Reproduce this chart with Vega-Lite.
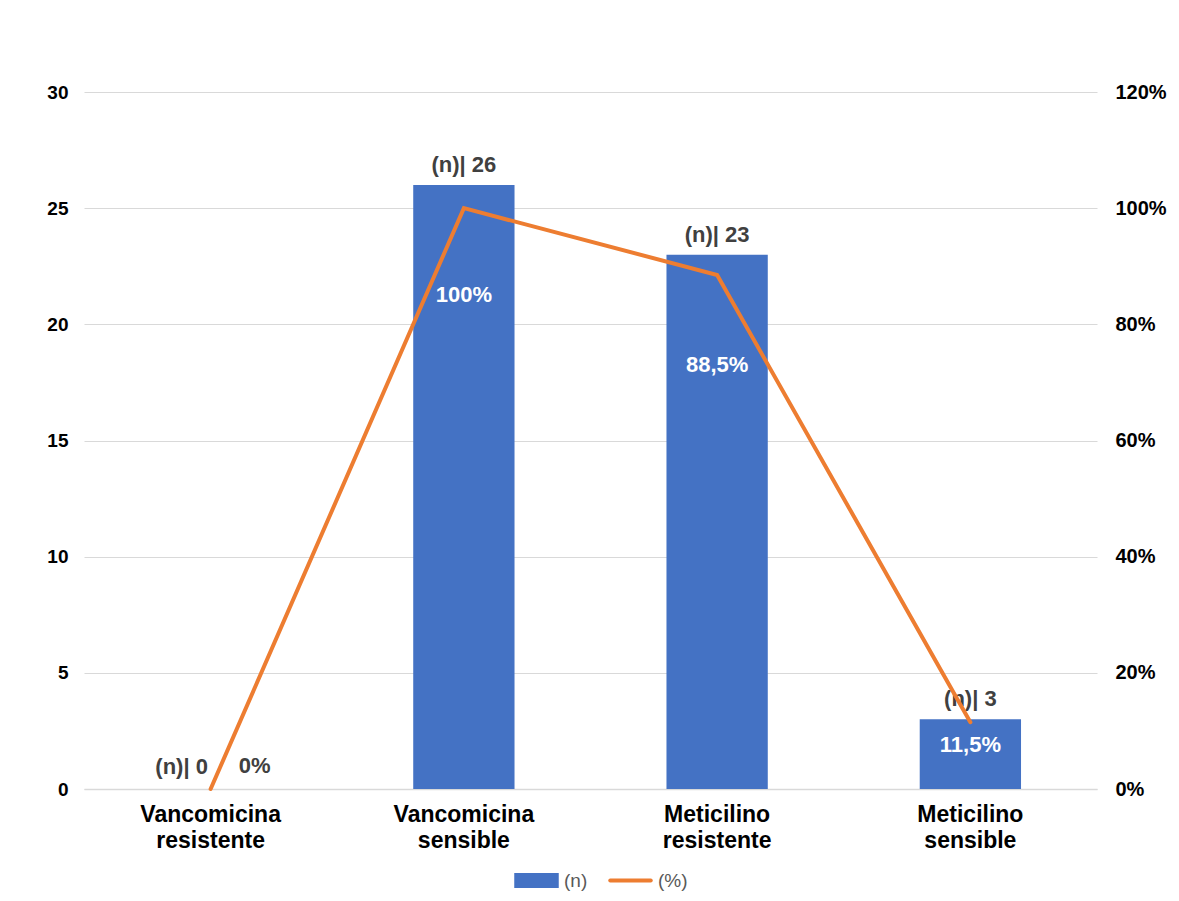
{
  "$schema": "https://vega.github.io/schema/vega-lite/v6.json",
  "width": 1013,
  "height": 697,
  "autosize": {"type": "none"},
  "padding": {"left": 84, "top": 92, "right": 82, "bottom": 112},
  "background": "white",
  "config": {
    "font": "Liberation Sans",
    "view": {"stroke": null},
    "axis": {"labelFont": "Liberation Sans", "labelFontWeight": "bold", "labelColor": "#000000", "ticks": false, "title": null}
  },
  "data": {
    "values": [
      {"cat": "Vancomicina resistente", "n": 0, "pct": 0},
      {"cat": "Vancomicina sensible", "n": 26, "pct": 1},
      {"cat": "Meticilino resistente", "n": 23, "pct": 0.885},
      {"cat": "Meticilino sensible", "n": 3, "pct": 0.115}
    ]
  },
  "transform": [
    {"calculate": "'(n)| ' + datum.n", "as": "nlabel"},
    {"calculate": "replace(format(datum.pct, '.1~%'), '.', ',')", "as": "plabel"}
  ],
  "encoding": {
    "x": {
      "field": "cat",
      "type": "nominal",
      "sort": null,
      "scale": {"paddingInner": 0.6, "paddingOuter": 0.3},
      "axis": {
        "labelAngle": 0,
        "labelFontSize": 23,
        "labelLineHeight": 26,
        "labelPadding": 14,
        "labelExpr": "split(datum.label, ' ')",
        "domainColor": "#d9d9d9",
        "domainWidth": 1.5
      }
    }
  },
  "layer": [
    {
      "encoding": {
        "y": {
          "field": "n",
          "type": "quantitative",
          "scale": {"domain": [0, 30], "nice": false},
          "axis": {
            "values": [0, 5, 10, 15, 20, 25, 30],
            "labelFontSize": 19,
            "labelPadding": 16,
            "domain": false,
            "gridColor": "#d9d9d9",
            "gridWidth": 1.2
          }
        }
      },
      "layer": [
        {
          "mark": {"type": "bar", "color": "#4472c4"},
          "encoding": {
            "color": {
              "datum": "(n)",
              "scale": {"domain": ["(n)", "(%)"], "range": ["#4472c4", "#ed7d31"]},
              "legend": {
                "title": null,
                "orient": "none",
                "direction": "horizontal",
                "legendX": 430,
                "legendY": 766,
                "symbolSize": 1640,
                "symbolStrokeWidth": 4,
                "labelFontSize": 19,
                "labelColor": "#595959",
                "labelFont": "Liberation Sans",
                "labelOffset": 5,
                "columnPadding": 14,
                "encode": {
                  "symbols": {
                    "update": {
                      "shape": {"signal": "datum.label === '(n)' ? 'M-1,-0.27H1V0.27H-1Z' : 'M-1,-0.27M-1,0H1M1,0.27'"},
                      "fill": {"signal": "datum.label === '(n)' ? '#4472c4' : 'transparent'"},
                      "stroke": {"signal": "datum.label === '(n)' ? 'transparent' : '#ed7d31'"},
                      "strokeWidth": {"value": 4},
                      "strokeCap": {"value": "round"},
                      "opacity": {"value": 1}
                    }
                  }
                }
              }
            }
          }
        },
        {
          "transform": [{"filter": "datum.n > 0"}],
          "mark": {"type": "text", "dy": -20, "fontSize": 22, "fontWeight": "bold", "color": "#404040", "baseline": "middle"},
          "encoding": {"text": {"field": "nlabel"}}
        },
        {
          "transform": [{"filter": "datum.n == 0"}],
          "mark": {"type": "text", "dx": -29, "dy": -22, "fontSize": 22, "fontWeight": "bold", "color": "#404040", "baseline": "middle"},
          "encoding": {"text": {"field": "nlabel"}}
        },
        {
          "transform": [{"filter": "datum.n > 5"}],
          "mark": {"type": "text", "dy": 110, "fontSize": 22, "fontWeight": "bold", "color": "#ffffff", "baseline": "middle"},
          "encoding": {"text": {"field": "plabel"}}
        },
        {
          "transform": [{"filter": "datum.n > 0 && datum.n <= 5"}],
          "mark": {"type": "text", "dy": 26, "fontSize": 22, "fontWeight": "bold", "color": "#ffffff", "baseline": "middle"},
          "encoding": {"text": {"field": "plabel"}}
        },
        {
          "transform": [{"filter": "datum.pct == 0"}],
          "mark": {"type": "text", "dx": 44, "dy": -23, "fontSize": 22, "fontWeight": "bold", "color": "#404040", "baseline": "middle"},
          "encoding": {"text": {"field": "plabel"}}
        }
      ]
    },
    {
      "mark": {"type": "line", "strokeWidth": 4, "strokeCap": "round", "strokeJoin": "miter"},
      "encoding": {
        "y": {
          "field": "pct",
          "type": "quantitative",
          "scale": {"domain": [0, 1.2], "nice": false},
          "axis": {
            "orient": "right",
            "values": [0, 0.2, 0.4, 0.6, 0.8, 1.0, 1.2],
            "format": ".0%",
            "labelFontSize": 20,
            "labelPadding": 18,
            "domain": false,
            "grid": false
          }
        },
        "color": {"datum": "(%)"}
      }
    }
  ],
  "resolve": {"scale": {"y": "independent"}}
}
